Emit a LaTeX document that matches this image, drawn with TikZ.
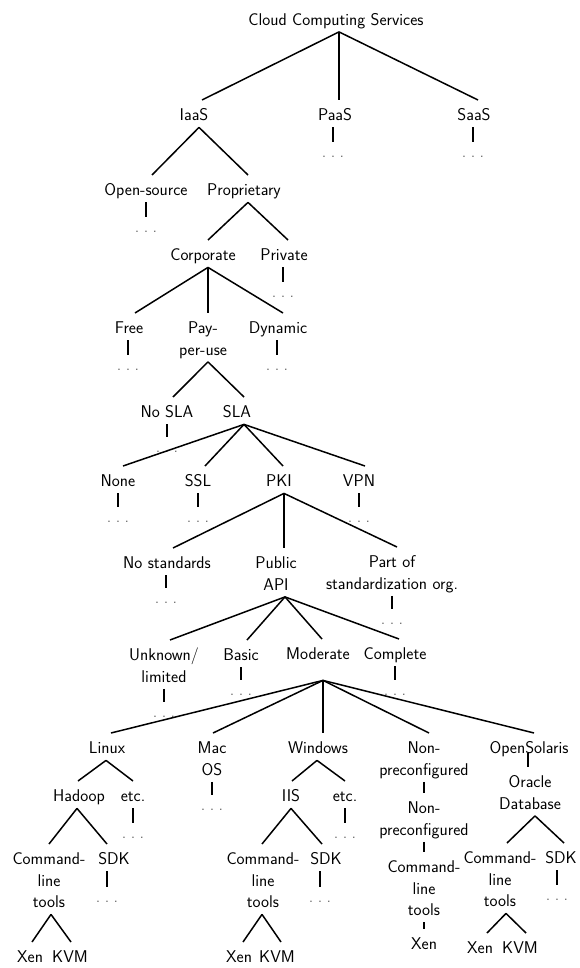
\documentclass[tikz,border=0pt]{standalone}
\usepackage{fontspec}
\newcommand\Ln[1]{\vrule height 14pt depth 0pt width 0pt\smash{#1}}
\newcommand\Dt{\vrule height 8.5pt depth 0pt width 0pt\smash{.\kern4.5pt.\kern4.5pt.}}
\newcommand\lnk[4]{\draw[edg] ([xshift=#2pt]#1.south) -- ([xshift=#4pt]#3.north);}
\newcommand\tck[4]{\draw[tk] ([xshift=#2pt]#1.south) -- ([xshift=#4pt]#3.north);}
\tikzset{
  nd/.style={anchor=north, inner xsep=0pt, inner ysep=6.5pt, align=center,
    font=\sffamily\fontsize{17}{21.5}\selectfont},
  dt/.style={nd, text=black!55},
  edg/.style={line width=1.5pt},
  tk/.style={line width=1.8pt},
}
\begin{document}
\begin{tikzpicture}[x=1pt,y=-1pt]
\fill[white] (0,0) rectangle (579,968);
\useasboundingbox (0,0) rectangle (579,968);
% row 0-1
\node[nd] (root) at (336,4.5) {\Ln{Cloud Computing Services}};
\node[nd] (iaas) at (194,100) {\Ln{IaaS}};
\node[nd] (paas) at (335,100) {\Ln{PaaS}};
\node[nd] (saas) at (474,100) {\Ln{SaaS}};
\node[dt] (paasd) at (333,142) {\Dt};
\node[dt] (saasd) at (473,142) {\Dt};
% row 2-3
\node[nd] (open) at (146,175) {\Ln{Open-source}};
\node[nd] (prop) at (244,175) {\Ln{Proprietary}};
\node[dt] (opend) at (146,217) {\Dt};
\node[nd] (corp) at (203,240) {\Ln{Corporate}};
\node[nd] (priv) at (284,240) {\Ln{Private}};
\node[dt] (privd) at (283,282) {\Dt};
% row 4
\node[nd] (free) at (129,313) {\Ln{Free}};
\node[nd] (pay) at (203,313) {\Ln{Pay-}\\\Ln{per-use}};
\node[nd] (dyn) at (278,313) {\Ln{Dynamic}};
\node[dt] (freed) at (128,355) {\Dt};
\node[dt] (dynd) at (277,355) {\Dt};
% row 5
\node[nd] (nosla) at (167,397) {\Ln{No SLA}};
\node[nd] (sla) at (237,397) {\Ln{SLA}};
\node[dt] (noslad) at (167,437) {\Dt};
% row 6
\node[nd] (none) at (118,466) {\Ln{None}};
\node[nd] (ssl) at (198,466) {\Ln{SSL}};
\node[nd] (pki) at (279,466) {\Ln{PKI}};
\node[nd] (vpn) at (359,466) {\Ln{VPN}};
\node[dt] (noned) at (118,507) {\Dt};
\node[dt] (ssld) at (198,507) {\Dt};
\node[dt] (vpnd) at (359,507) {\Dt};
% row 7
\node[nd] (nostd) at (167,548) {\Ln{No standards}};
\node[nd] (pub) at (276,548) {\Ln{Public}\\\Ln{API}};
\node[nd] (part) at (392,547) {\Ln{Part of}\\\Ln{standardization org.}};
\node[dt] (nostdd) at (166,588) {\Dt};
\node[dt] (partd) at (392,609) {\Dt};
% row 8
\node[nd] (unk) at (164,640) {\Ln{Unknown/}\\\Ln{limited}};
\node[nd] (basic) at (241,640) {\Ln{Basic}};
\node[nd] (mod) at (318,639) {\Ln{Moderate}};
\node[nd] (comp) at (395,639) {\Ln{Complete}};
\node[dt] (unkd) at (164,702) {\Dt};
\node[dt] (basicd) at (241,680) {\Dt};
\node[dt] (compd) at (395,680) {\Dt};
% row 9
\node[nd] (linux) at (107,733) {\Ln{Linux}};
\node[nd] (mac) at (212,733) {\Ln{Mac}\\\Ln{OS}};
\node[nd] (win) at (318,733) {\Ln{Windows}};
\node[nd] (nonp) at (424,733) {\Ln{Non-}\\\Ln{preconfigured}};
\node[nd] (os) at (529,733) {\Ln{OpenSolaris}};
\node[dt] (macd) at (212,795) {\Dt};
% Linux branch
\node[nd] (hadoop) at (79,781) {\Ln{Hadoop}};
\node[nd] (etca) at (133,781) {\Ln{etc.}};
\node[dt] (etcad) at (133,823) {\Dt};
\node[nd] (clta) at (49,844) {\Ln{Command-}\\\Ln{line}\\\Ln{tools}};
\node[nd] (sdka) at (114,844) {\Ln{SDK}};
\node[dt] (sdkad) at (107,887) {\Dt};
\node[nd] (xena) at (30,942) {\Ln{Xen}};
\node[nd] (kvma) at (70,942) {\Ln{KVM}};
% Windows branch
\node[nd] (iis) at (291,781) {\Ln{IIS}};
\node[nd] (etcb) at (345,781) {\Ln{etc.}};
\node[dt] (etcbd) at (345,823) {\Dt};
\node[nd] (cltb) at (263,844) {\Ln{Command-}\\\Ln{line}\\\Ln{tools}};
\node[nd] (sdkb) at (326,844) {\Ln{SDK}};
\node[dt] (sdkbd) at (320,887) {\Dt};
\node[nd] (xenb) at (239,942) {\Ln{Xen}};
\node[nd] (kvmb) at (277,942) {\Ln{KVM}};
% Non-preconfigured branch
\node[nd] (nonpb) at (424,793) {\Ln{Non-}\\\Ln{preconfigured}};
\node[nd] (cltc) at (424,852) {\Ln{Command-}\\\Ln{line}\\\Ln{tools}};
\node[nd] (xenc) at (424,929) {\Ln{Xen}};
% OpenSolaris branch
\node[nd] (oracle) at (530,767) {\Ln{Oracle}\\\Ln{Database}};
\node[nd] (cltd) at (500,843) {\Ln{Command-}\\\Ln{line}\\\Ln{tools}};
\node[nd] (sdkd) at (561,843) {\Ln{SDK}};
\node[dt] (sdkdd) at (557,885) {\Dt};
\node[nd] (xend) at (480,933) {\Ln{Xen}};
\node[nd] (kvmd) at (520,933) {\Ln{KVM}};
% connectors
\lnk{root}{3}{iaas}{8}
\lnk{root}{3}{paas}{4}
\lnk{root}{3}{saas}{4}
\tck{paas}{-2}{paasd}{0}
\tck{saas}{-1}{saasd}{0}
\lnk{iaas}{5}{open}{6}
\lnk{iaas}{5}{prop}{4}
\tck{open}{0}{opend}{0}
\lnk{prop}{4}{corp}{5}
\lnk{prop}{4}{priv}{4}
\tck{priv}{-1}{privd}{0}
\lnk{corp}{5}{free}{6}
\lnk{corp}{5}{pay}{5}
\lnk{corp}{5}{dyn}{5}
\tck{free}{-1}{freed}{0}
\tck{dyn}{-1}{dynd}{0}
\lnk{pay}{5}{nosla}{6}
\lnk{pay}{5}{sla}{7}
\tck{nosla}{0}{noslad}{0}
\lnk{sla}{7}{none}{5}
\lnk{sla}{7}{ssl}{7}
\lnk{sla}{7}{pki}{4}
\lnk{sla}{7}{vpn}{6}
\tck{none}{0}{noned}{0}
\tck{ssl}{0}{ssld}{0}
\tck{vpn}{0}{vpnd}{0}
\lnk{pki}{5}{nostd}{6}
\lnk{pki}{5}{pub}{8}
\lnk{pki}{5}{part}{5}
\tck{nostd}{-1}{nostdd}{0}
\tck{part}{0}{partd}{0}
\lnk{pub}{9}{unk}{6}
\lnk{pub}{9}{basic}{6}
\lnk{pub}{9}{mod}{4}
\lnk{pub}{9}{comp}{4}
\tck{unk}{0}{unkd}{0}
\tck{basic}{0}{basicd}{0}
\tck{comp}{0}{compd}{0}
\foreach \c/\s in {linux/4, mac/1, win/5, nonp/5, os/5}
  \draw[edg] ([xshift=5pt,yshift=-14pt]mod.south) -- ([xshift=\s pt]\c.north);
\tck{mac}{0}{macd}{0}
\lnk{linux}{-1}{hadoop}{-1}
\lnk{linux}{-1}{etca}{0}
\tck{etca}{0}{etcad}{0}
\lnk{hadoop}{-2}{clta}{0}
\lnk{hadoop}{-2}{sdka}{-7}
\tck{sdka}{-7}{sdkad}{0}
\lnk{clta}{2}{xena}{2}
\lnk{clta}{2}{kvma}{1}
\lnk{win}{-1}{iis}{1}
\lnk{win}{-1}{etcb}{0}
\tck{etcb}{0}{etcbd}{0}
\lnk{iis}{0}{cltb}{-1}
\lnk{iis}{0}{sdkb}{-4}
\tck{sdkb}{-6}{sdkbd}{0}
\lnk{cltb}{-1}{xenb}{4}
\lnk{cltb}{-1}{kvmb}{4}
\tck{nonp}{0}{nonpb}{0}
\tck{nonpb}{0}{cltc}{0}
\tck{cltc}{0}{xenc}{0}
\draw[tk] ([xshift=-1pt,yshift=7pt]os.south) -- ([xshift=-2pt]oracle.north);
\lnk{oracle}{5}{cltd}{7}
\lnk{oracle}{5}{sdkd}{3}
\tck{sdkd}{-4}{sdkdd}{0}
\lnk{cltd}{6}{xend}{7}
\lnk{cltd}{6}{kvmd}{6}
\end{tikzpicture}
\end{document}
